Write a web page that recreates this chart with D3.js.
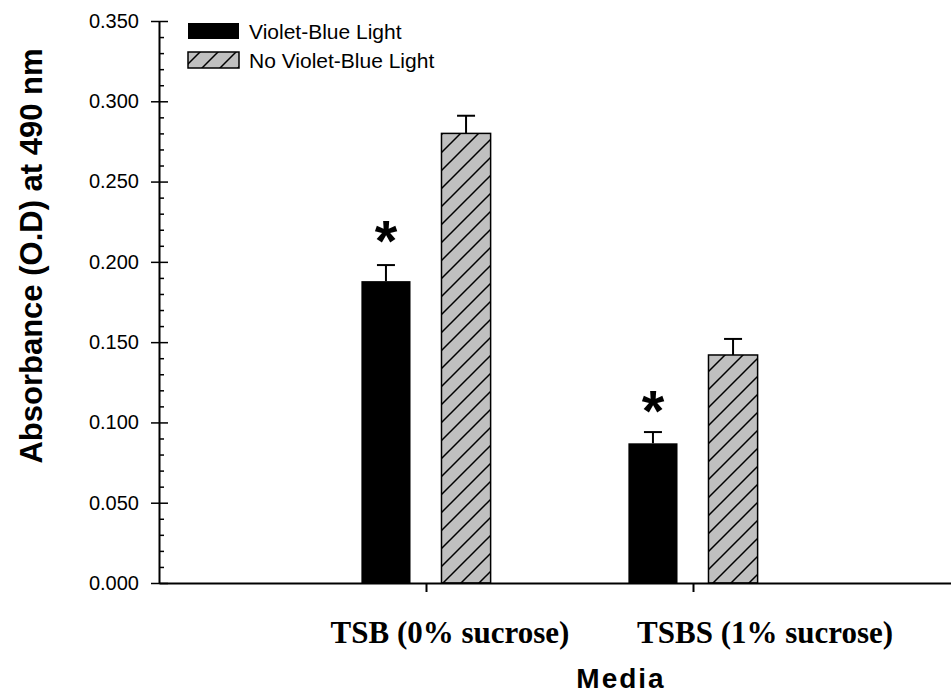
<!DOCTYPE html>
<html><head><meta charset="utf-8">
<script src="https://cdn.jsdelivr.net/npm/d3@7"></script>
<style>body{margin:0;background:#fff}svg{display:block}</style>
</head><body>
<script>
// ---- data ----
const categories = ["TSB (0% sucrose)", "TSBS (1% sucrose)"];
const seriesNames = ["Violet-Blue Light", "No Violet-Blue Light"];
const violet = [0.188, 0.087];
const violetErr = [0.010, 0.007];
const noViolet = [0.280, 0.142];
const noVioletErr = [0.011, 0.010];
const significant = [true, true];
const asteriskY = [0.221, 0.115];
const yTicks = [0, 0.05, 0.10, 0.15, 0.20, 0.25, 0.30, 0.35];
const labelPos = [0.09, 1.27];

const W = 951, H = 694;
const svg = d3.select("body").append("svg").attr("width", W).attr("height", H);

const y = d3.scaleLinear().domain([0, 0.35]).range([583, 21]);
const x = d3.scaleLinear().domain([-1, 2]).range([159, 960]);
const off = 0.15, half = 0.092;

const defs = svg.append("defs");
const pat = defs.append("pattern").attr("id", "hatch").attr("patternUnits", "userSpaceOnUse")
  .attr("width", 18).attr("height", 18);
pat.append("rect").attr("width", 18).attr("height", 18).attr("fill", "#c0c0c0");
pat.append("path").attr("d", "M-2,20 L20,-2 M-2,2 L2,-2 M16,20 L20,16").attr("stroke", "#000").attr("stroke-width", 1.5);

const sans = "'Liberation Sans', Arial, sans-serif";
const serif = "'Liberation Serif', 'Times New Roman', serif";

const rows = categories.map((c, i) => ({i, v: violet[i], ve: violetErr[i], n: noViolet[i], ne: noVioletErr[i]}));

// error bars
function errbar(cx, v, e) {
  const g = svg.append("g").attr("stroke", "#000").attr("stroke-width", 2);
  g.append("line").attr("x1", x(cx)).attr("x2", x(cx)).attr("y1", y(v)).attr("y2", y(v + e));
  g.append("line").attr("x1", x(cx) - 9).attr("x2", x(cx) + 9).attr("y1", y(v + e)).attr("y2", y(v + e));
}
rows.forEach(r => {
  errbar(r.i - off, r.v, r.ve);
  errbar(r.i + off, r.n, r.ne);
});

svg.selectAll(".bv").data(rows).join("rect")
  .attr("x", d => x(d.i - off - half)).attr("width", d => x(d.i - off + half) - x(d.i - off - half))
  .attr("y", d => y(d.v)).attr("height", d => y(0) - y(d.v)).attr("fill", "#000");
svg.selectAll(".bn").data(rows).join("rect")
  .attr("x", d => x(d.i + off - half)).attr("width", d => x(d.i + off + half) - x(d.i + off - half))
  .attr("y", d => y(d.n)).attr("height", d => y(0) - y(d.n)).attr("fill", "url(#hatch)")
  .attr("stroke", "#000").attr("stroke-width", 1.5);

// asterisks
const afs = 58;
svg.selectAll(".ast").data(rows.filter(d => significant[d.i])).join("text")
  .attr("x", d => x(d.i - off)).attr("y", d => y(asteriskY[d.i]) + 0.57 * afs)
  .attr("text-anchor", "middle").attr("font-family", sans).attr("font-weight", "bold")
  .attr("font-size", afs).text("*");

// y axis
const ya = svg.append("g").attr("transform", "translate(159,0)")
  .call(d3.axisLeft(y).tickValues(yTicks).tickFormat(d3.format(".3f")).tickSizeInner(8).tickSizeOuter(0).tickPadding(12));
ya.select(".domain").attr("stroke-width", 2);
ya.selectAll(".tick line").attr("x2", -8).attr("x1", 9).attr("stroke-width", 1.5);
ya.selectAll(".tick text").attr("font-family", sans).attr("font-size", 20).attr("fill", "#000");
const minor = d3.range(0, 36).map(d => d / 100).filter(d => Math.round(d * 100) % 5 !== 0);
const ym = svg.append("g").attr("transform", "translate(159,0)")
  .call(d3.axisRight(y).tickValues(minor).tickFormat("").tickSize(5).tickSizeOuter(0));
ym.select(".domain").remove();
ym.selectAll(".tick line").attr("stroke-width", 1.5);

// x axis
const xa = svg.append("g").attr("transform", "translate(0,583)")
  .call(d3.axisBottom(x).tickValues([0, 1]).tickFormat("").tickSizeInner(9).tickSizeOuter(0));
xa.select(".domain").attr("stroke-width", 2);
xa.selectAll(".tick line").attr("stroke-width", 2);

// category labels
svg.selectAll(".cat").data(categories).join("text")
  .attr("x", (d, i) => x(labelPos[i])).attr("y", 643)
  .attr("text-anchor", "middle").attr("font-family", serif).attr("font-weight", "bold")
  .attr("font-size", 31).text(d => d);

// axis titles
svg.append("text").attr("x", 621).attr("y", 688).attr("text-anchor", "middle")
  .attr("font-family", sans).attr("font-weight", "bold").attr("font-size", 28)
  .attr("letter-spacing", 2).text("Media");
svg.append("text").attr("transform", "translate(42,256) rotate(-90)").attr("text-anchor", "middle")
  .attr("font-family", sans).attr("font-weight", "bold").attr("font-size", 31)
  .text("Absorbance (O.D) at 490 nm");

// legend
const lg = svg.append("g");
seriesNames.forEach((s, i) => {
  lg.append("rect").attr("x", 188).attr("y", 23 + i * 29).attr("width", 51).attr("height", 16)
    .attr("fill", i === 0 ? "#000" : "url(#hatch)").attr("stroke", "#000").attr("stroke-width", i === 0 ? 0 : 1.5);
  lg.append("text").attr("x", 249).attr("y", 38.5 + i * 29).attr("font-family", sans)
    .attr("font-size", 21).text(s);
});
</script>
</body></html>
